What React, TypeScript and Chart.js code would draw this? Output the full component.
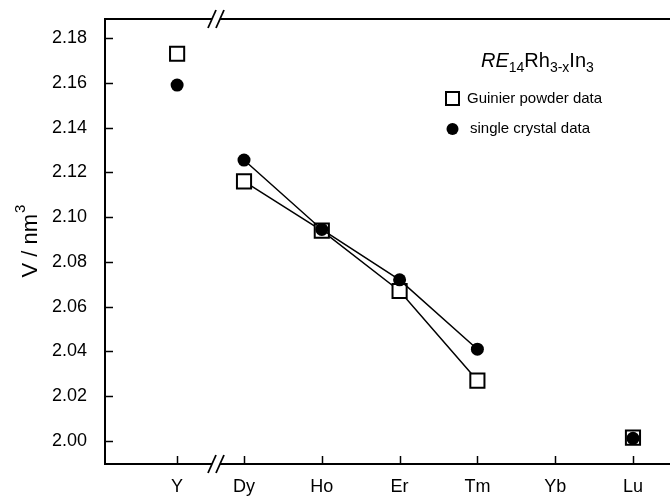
import React, { useEffect, useRef } from "react";
import { Chart, registerables } from "chart.js";

Chart.register(...registerables);

// ---- data ----
const categories = ["Y", "Dy", "Ho", "Er", "Tm", "Yb", "Lu"];
const categoryPositions = [0.14, 1, 2, 3, 4, 5, 6];
const pointCategories = ["Y", "Dy", "Ho", "Er", "Tm", "Lu"];
const guinierValues = [2.173, 2.116, 2.094, 2.067, 2.027, 2.0015];
const crystalValues = [2.159, 2.1255, 2.0945, 2.072, 2.041, 2.0012];
const yTicks = [2.0, 2.02, 2.04, 2.06, 2.08, 2.1, 2.12, 2.14, 2.16, 2.18];
const connectedCategories = ["Dy", "Ho", "Er", "Tm"];
const breakPosition = 0.64;

const FONT = "'Liberation Sans', Arial, sans-serif";

const posOf = (c: string) => categoryPositions[categories.indexOf(c)];

const toPoints = (vals: number[]) =>
  pointCategories.map((c, i) => ({ x: posOf(c), y: vals[i] }));

const segColor = (ctx: any) => {
  const a = pointCategories[ctx.p0DataIndex];
  const b = pointCategories[ctx.p1DataIndex];
  return connectedCategories.includes(a) && connectedCategories.includes(b)
    ? "#000"
    : "rgba(0,0,0,0)";
};

const zeroPad = (s: any) => {
  s.paddingTop = 0;
  s.paddingBottom = 0;
  s.paddingLeft = 0;
  s.paddingRight = 0;
};

const decor = {
  id: "decor",
  afterDraw(chart: any) {
    const { ctx, chartArea: a, scales } = chart;
    const x = scales.x;
    const y = scales.y;
    ctx.save();
    ctx.strokeStyle = "#000";
    const line = (x1: number, y1: number, x2: number, y2: number) => {
      ctx.beginPath();
      ctx.moveTo(x1, y1);
      ctx.lineTo(x2, y2);
      ctx.stroke();
    };
    // top frame line
    ctx.lineWidth = 2;
    line(a.left - 1, a.top, a.right, a.top);
    // inside ticks
    ctx.lineWidth = 1.5;
    yTicks.forEach((v) => {
      const py = Math.round(y.getPixelForValue(v)) + 0.5;
      line(a.left, py, a.left + 8, py);
    });
    categoryPositions.forEach((v) => {
      const px = Math.round(x.getPixelForValue(v)) + 0.5;
      line(px, a.bottom, px, a.bottom - 8);
    });
    // axis breaks
    const bx = x.getPixelForValue(breakPosition);
    [a.top, a.bottom].forEach((by: number) => {
      ctx.fillStyle = "#fff";
      ctx.fillRect(bx - 4, by - 2, 8, 4);
      ctx.lineWidth = 1.8;
      line(bx - 8, by + 9, bx, by - 9);
      line(bx, by + 9, bx + 8, by - 9);
    });

    // y axis title
    ctx.fillStyle = "#000";
    ctx.save();
    ctx.translate(31, (a.top + a.bottom) / 2);
    ctx.rotate(-Math.PI / 2);
    ctx.font = `22px ${FONT}`;
    const main = "V / nm";
    const wMain = ctx.measureText(main).width;
    ctx.font = `15px ${FONT}`;
    const wSup = ctx.measureText("3").width;
    const start = -(wMain + wSup) / 2;
    ctx.textBaseline = "middle";
    ctx.textAlign = "left";
    ctx.font = `22px ${FONT}`;
    ctx.fillText(main, start, 0);
    ctx.font = `15px ${FONT}`;
    ctx.fillText("3", start + wMain + 1, -10);
    ctx.restore();

    // legend title: RE14Rh3-xIn3
    let tx = 481;
    const ty = 67;
    ctx.textBaseline = "alphabetic";
    ctx.textAlign = "left";
    const parts: [string, string, number][] = [
      ["RE", `italic 20px ${FONT}`, 0],
      ["14", `14px ${FONT}`, 5],
      ["Rh", `20px ${FONT}`, 0],
      ["3-x", `14px ${FONT}`, 5],
      ["In", `20px ${FONT}`, 0],
      ["3", `14px ${FONT}`, 5],
    ];
    parts.forEach(([t, f, dy]) => {
      ctx.font = f;
      ctx.fillText(t, tx, ty + dy);
      tx += ctx.measureText(t).width;
    });

    // legend entries
    ctx.lineWidth = 2;
    ctx.strokeStyle = "#000";
    ctx.fillStyle = "#fff";
    ctx.fillRect(446, 92, 13, 13);
    ctx.strokeRect(446, 92, 13, 13);
    ctx.fillStyle = "#000";
    ctx.beginPath();
    ctx.arc(452.5, 129, 6, 0, Math.PI * 2);
    ctx.fill();
    ctx.font = `15px ${FONT}`;
    ctx.textBaseline = "middle";
    ctx.fillText("Guinier powder data", 467, 98.5);
    ctx.fillText("single crystal data", 470, 129);
    ctx.restore();
  },
};

export default function App() {
  const ref = useRef<HTMLCanvasElement | null>(null);
  useEffect(() => {
    if (!ref.current) return;
    const chart = new Chart(ref.current, {
      type: "line",
      data: {
        datasets: [
          {
            label: "single crystal data",
            data: toPoints(crystalValues),
            borderColor: "#000",
            borderWidth: 1.5,
            backgroundColor: "#000",
            pointStyle: "circle",
            pointRadius: 6.5,
            pointBorderWidth: 0,
            pointBackgroundColor: "#000",
            segment: { borderColor: segColor },
            order: 1,
          },
          {
            label: "Guinier powder data",
            data: toPoints(guinierValues),
            borderColor: "#000",
            borderWidth: 1.5,
            pointStyle: "rect",
            pointRadius: 10,
            pointBorderWidth: 2,
            pointBorderColor: "#000",
            pointBackgroundColor: "#fff",
            segment: { borderColor: segColor },
            order: 2,
          },
        ],
      },
      options: {
        animation: false,
        responsive: false,
        maintainAspectRatio: false,
        layout: { autoPadding: false, padding: { top: 19, right: 0, left: 0, bottom: 0 } },
        plugins: { legend: { display: false }, tooltip: { enabled: false } },
        elements: { line: { tension: 0 } },
        scales: {
          x: {
            type: "linear",
            min: -0.787,
            max: 6.476,
            grid: { display: false },
            border: { display: true, color: "#000", width: 2 },
            afterBuildTicks: (s: any) => {
              s.ticks = categoryPositions.map((v) => ({ value: v }));
            },
            afterFit: (s: any) => {
              s.height = 33;
              zeroPad(s);
            },
            ticks: {
              autoSkip: false,
              maxRotation: 0,
              padding: 4,
              color: "#000",
              font: { family: FONT, size: 18 },
              callback: (v: any) => categories[categoryPositions.indexOf(v)] ?? "",
            },
          },
          y: {
            type: "linear",
            min: 1.98973,
            max: 2.1885,
            grid: { display: false },
            border: { display: true, color: "#000", width: 2 },
            afterBuildTicks: (s: any) => {
              s.ticks = yTicks.map((v) => ({ value: v }));
            },
            afterFit: (s: any) => {
              s.width = 105;
              zeroPad(s);
            },
            ticks: {
              padding: 10,
              color: "#000",
              font: { family: FONT, size: 18 },
              callback: (v: any) => Number(v).toFixed(2),
            },
          },
        },
      },
      plugins: [decor],
    });
    return () => chart.destroy();
  }, []);
  return (
    <div style={{ position: "absolute", left: 0, top: 0, width: 670, height: 497 }}>
      <canvas ref={ref} width={670} height={497} style={{ display: "block" }} />
    </div>
  );
}
